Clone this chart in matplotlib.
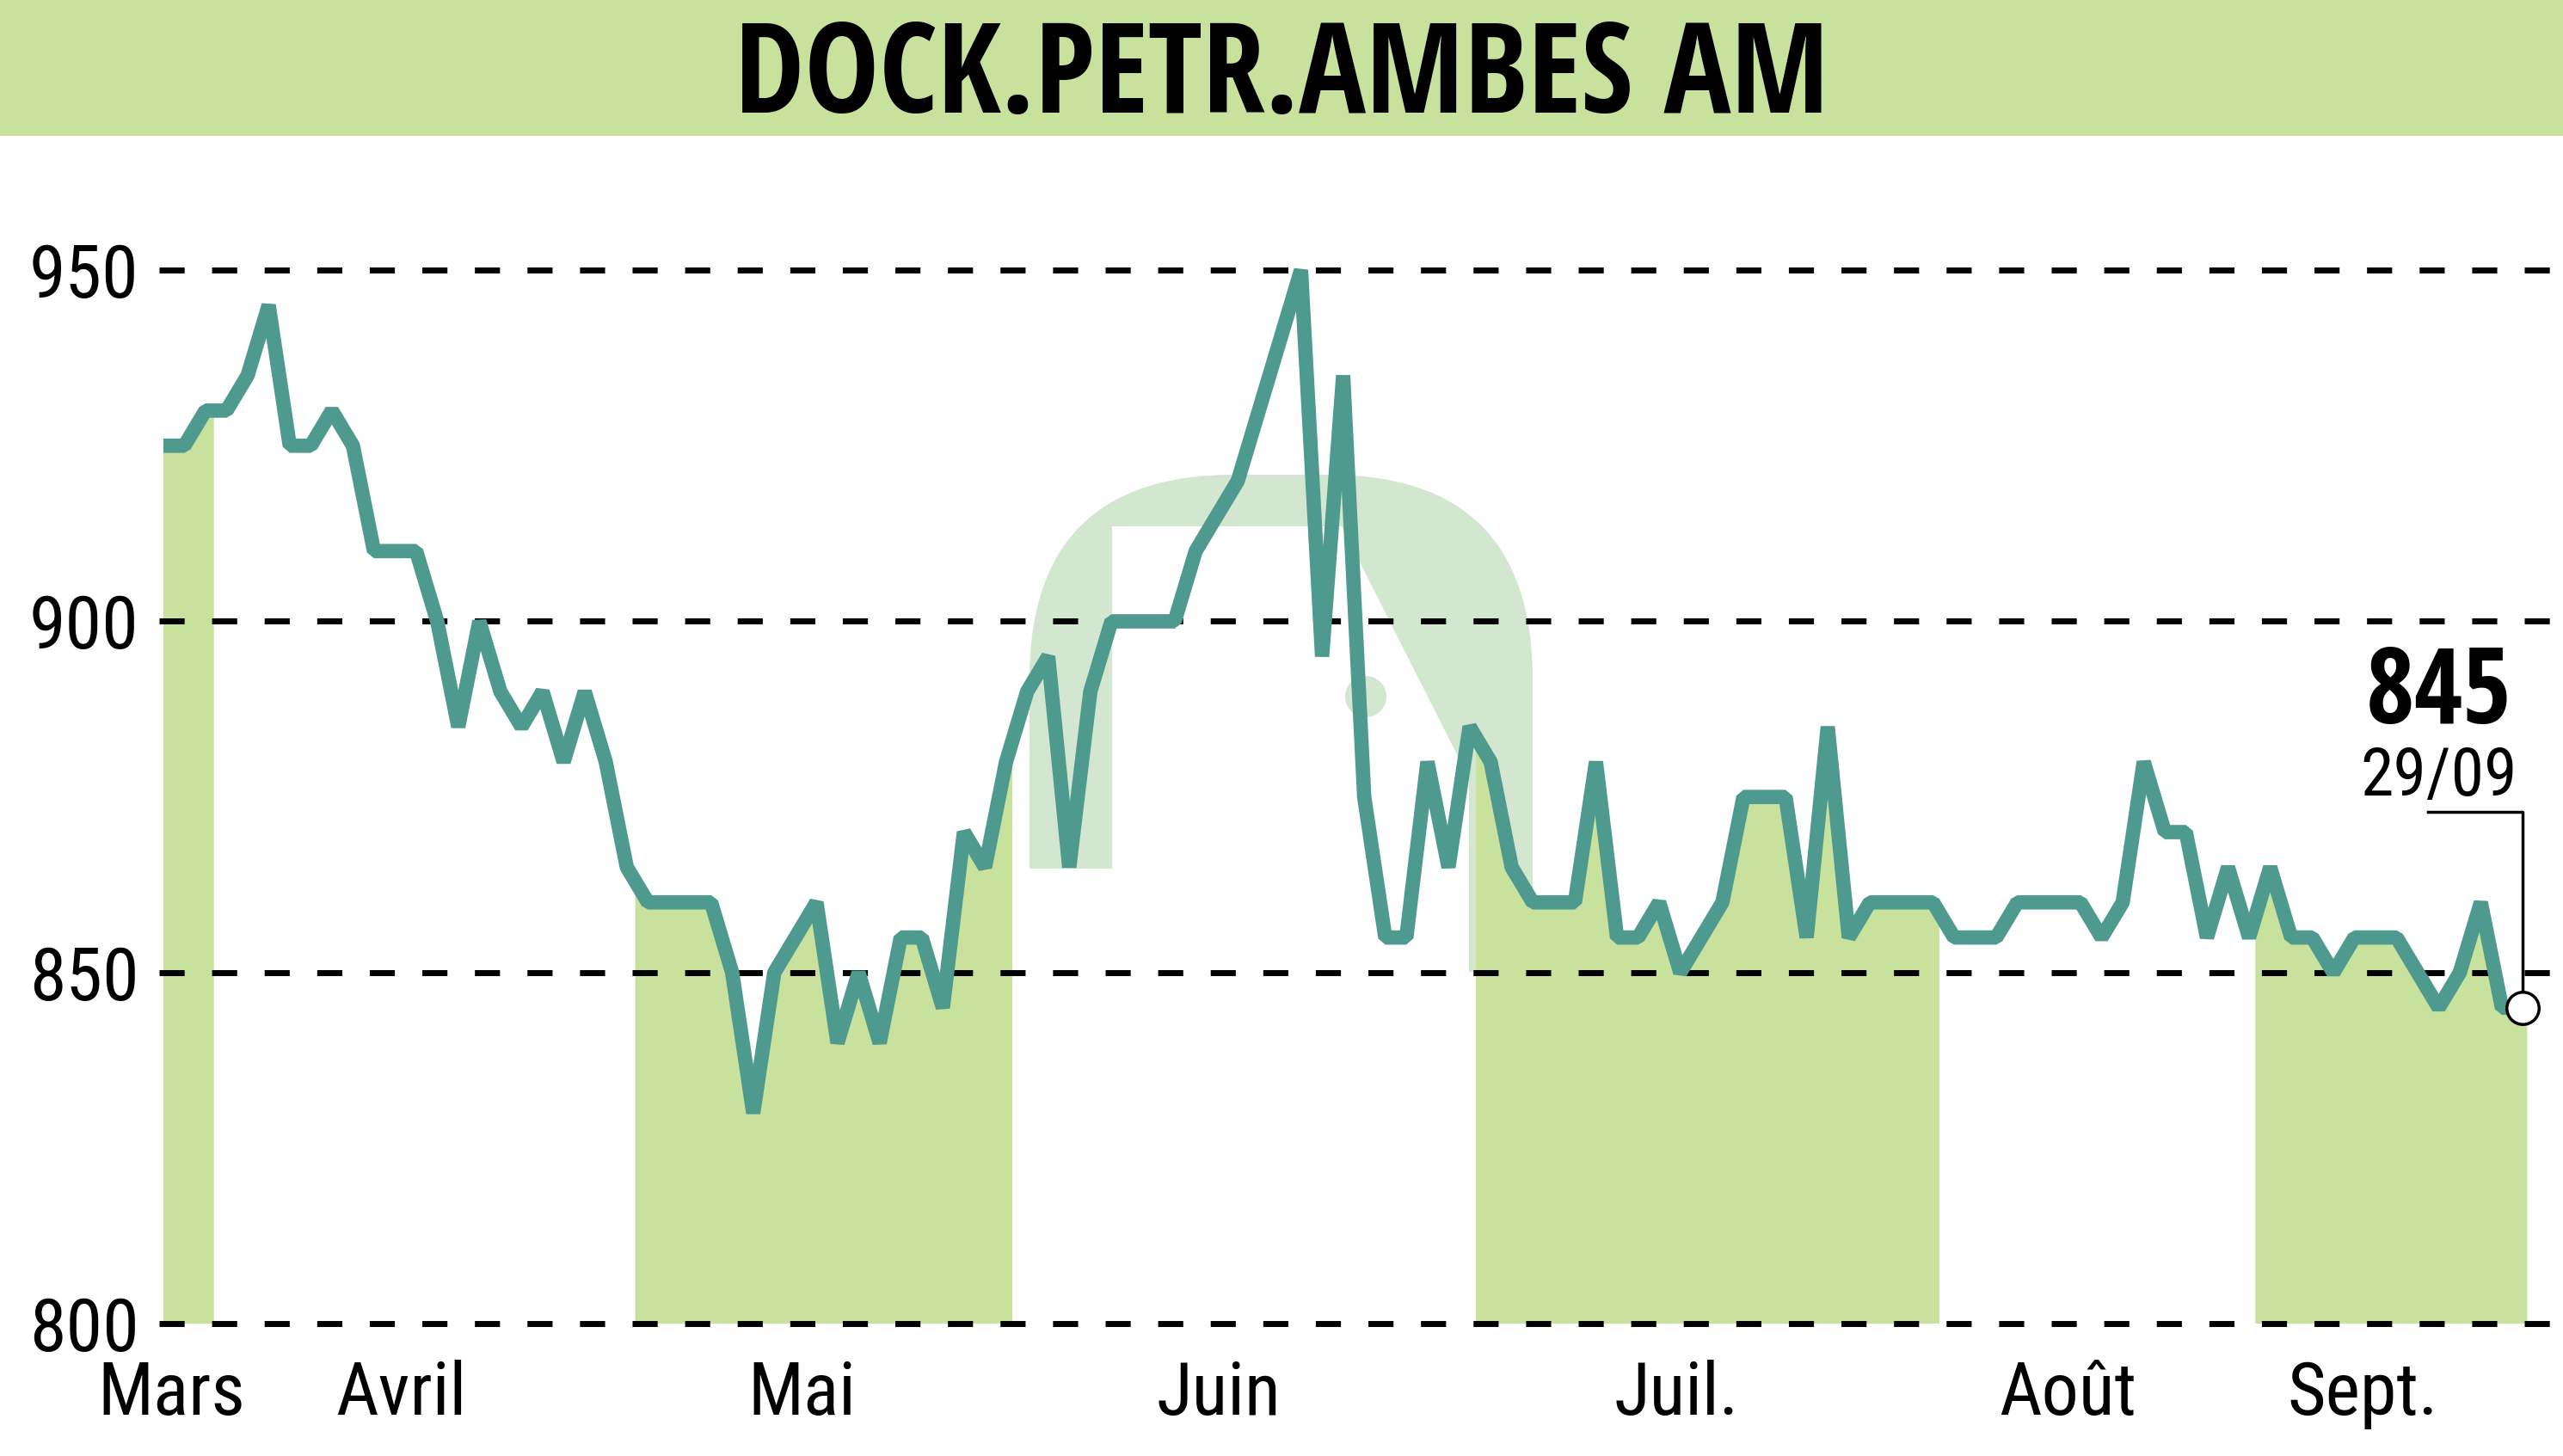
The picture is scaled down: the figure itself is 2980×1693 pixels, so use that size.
import os
import numpy as np
import matplotlib
matplotlib.use("Agg")
import matplotlib.pyplot as plt
from matplotlib import font_manager as fm
from matplotlib.patches import FancyBboxPatch, Polygon, Rectangle, Ellipse

# daily closes, first trading day of March -> 29/09
prices = [925, 925, 930, 930, 935, 945, 925, 925, 930, 925,
          910, 910, 910, 900, 885, 900, 890, 885, 890, 880,
          890, 880, 865, 860, 860, 860, 860, 850, 830, 850,
          855, 860, 840, 850, 840, 855, 855, 845, 870, 865,
          880, 890, 895, 865, 890, 900, 900, 900, 900, 910,
          915, 920, 930, 940, 950, 895, 935, 875, 855, 855,
          880, 865, 885, 880, 865, 860, 860, 860, 880, 855,
          855, 860, 850, 855, 860, 875, 875, 875, 855, 885,
          855, 860, 860, 860, 860, 855, 855, 855, 860, 860,
          860, 860, 855, 860, 880, 870, 870, 855, 865, 855,
          865, 855, 855, 850, 855, 855, 855, 850, 845, 850,
          860, 845, 845]

month_labels = ["Mars", "Avril", "Mai", "Juin", "Juil.", "Août", "Sept."]
month_label_pos = [0.4, 11.3, 30.3, 50.1, 71.8, 90.4, 104.4]
# shaded months (Mars, Mai, Juil., Sept.) as index ranges
shaded_months = [(0, 2.4), (22.4, 40.3), (62.3, 84.3), (99.3, 112.2)]
y_ticks = [800, 850, 900, 950]

title = "DOCK.PETR.AMBES AM"
last_label = "845"
last_date = "29/09"

LINE = "#4e9a8f"
FILL = "#c8e29d"


def find_condensed(bold):
    # look for a narrow sans face among the installed fonts
    best = None
    for f in fm.fontManager.ttflist:
        key = (f.name + " " + os.path.basename(f.fname)).lower()
        narrow = "condensed" in key or "narrow" in key or str(f.stretch) in (
            "condensed", "semi-condensed", "extra-condensed")
        if not narrow or "mono" in key or "serif" in key or "italic" in key:
            continue
        if f.style != "normal":
            continue
        w = f.weight if isinstance(f.weight, (int, float)) else fm.weight_dict.get(f.weight, 400)
        score = abs(w - (700 if bold else 400))
        if "extra" in key or "ultra" in key:
            score += 60
        elif "semi" in key:
            score += 30
        for fam, bonus in (("open sans", 0), ("noto sans", 2), ("roboto", 5),
                           ("liberation", 10), ("dejavu", 20)):
            if fam in key:
                score += bonus
                break
        else:
            score += 40
        if best is None or score < best[0]:
            best = (score, f.fname)
    return best[1] if best else None


reg_file = find_condensed(False)
bold_file = find_condensed(True)
shrink = 1.0 if reg_file else 0.75


def font(bold, size):
    path = bold_file if bold else reg_file
    if path:
        return fm.FontProperties(fname=path, size=size)
    return fm.FontProperties(family="DejaVu Sans", weight="bold" if bold else "normal",
                             size=size * shrink)


W, H = 2980, 1693
fig = plt.figure(figsize=(W / 100, H / 100), dpi=100)


def fx(px):
    return px / W


def fy(py):
    return 1 - py / H


# title banner
fig.patches.append(Rectangle((0, fy(158)), 1, 158 / H, transform=fig.transFigure,
                             facecolor=FILL, edgecolor="none", zorder=0))
fig.text(0.5, fy(93), title, ha="center", va="center", fontproperties=font(True, 105))

ax = fig.add_axes([fx(185), fy(1539.4), 1 - fx(185), (1539.4 - 158) / H])
ax.set_facecolor("none")
x = np.arange(len(prices))
y = np.array(prices)
ax.set_xlim(-0.2, 113.9)
ax.set_ylim(800, 969.1)

# faint watermark logo behind the data
logo = "#d2e6d0"
tf = fig.transFigure
ax.add_patch(FancyBboxPatch((fx(1197), fy(1320)), fx(585), (1320 - 552) / H,
                            boxstyle="round,pad=0,rounding_size=%f" % (135 / H),
                            mutation_aspect=W / H, transform=tf,
                            facecolor=logo, edgecolor="none", zorder=0.5))
ax.add_patch(Polygon([(fx(1293), fy(612)), (fx(1560), fy(612)), (fx(1708), fy(905)),
                      (fx(1708), fy(1330)), (fx(1293), fy(1330))],
                     transform=tf, facecolor="white", edgecolor="none", zorder=0.6))
ax.add_patch(Rectangle((fx(1190), fy(1330)), fx(110), (1330 - 1010) / H,
                       transform=tf, facecolor="white", edgecolor="none", zorder=0.6))
ax.add_patch(Rectangle((fx(1700), fy(1330)), fx(95), (1330 - 1130) / H,
                       transform=tf, facecolor="white", edgecolor="none", zorder=0.6))
ax.add_patch(Ellipse((fx(1588), fy(810)), fx(48), 48 / H, transform=tf,
                     facecolor=logo, edgecolor="none", zorder=0.7))

for a, b in shaded_months:
    xs = np.concatenate([[a], x[(x > a) & (x < b)], [b]])
    ax.fill_between(xs, 800, np.interp(xs, x, y), facecolor=FILL, edgecolor="none", zorder=1)

for v in y_ticks:
    ax.axhline(v, color="black", lw=5, linestyle=(0, (4.2, 4.6)), zorder=2, clip_on=False)

ax.plot(x, y, color=LINE, lw=12, solid_joinstyle="bevel", solid_capstyle="butt", zorder=3)

# last value marker and label
xl, yl = x[-1], y[-1]
ax.plot([xl - 4.5, xl, xl], [yl + 27.9, yl + 27.9, yl], color="black", lw=2.5, zorder=4)
ax.plot([xl], [yl], marker="o", ms=27, mfc="white", mec="black", mew=2.5, zorder=5)
ax.text(xl - 4.0, 885.5, last_label, ha="center", va="baseline",
        fontproperties=font(True, 88), zorder=5)
ax.text(xl - 4.0, 875.2, last_date, ha="center", va="baseline",
        fontproperties=font(False, 56), zorder=5)

ax.set_yticks(y_ticks)
ax.set_yticklabels([str(v) for v in y_ticks], fontproperties=font(False, 62))
ax.set_xticks(month_label_pos)
ax.set_xticklabels(month_labels, fontproperties=font(False, 62))
ax.tick_params(axis="y", length=0, pad=17)
ax.tick_params(axis="x", length=0, pad=30)
for s in ax.spines.values():
    s.set_visible(False)

fig.savefig("out.png", dpi=100, facecolor="white")
